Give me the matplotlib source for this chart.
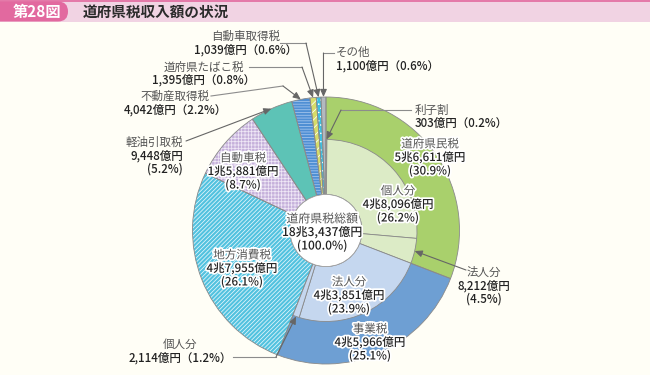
import numpy as np
import matplotlib
matplotlib.use('Agg')
import matplotlib.pyplot as plt
import matplotlib.patheffects as pe
from matplotlib.patches import Rectangle, FancyBboxPatch, Circle

plt.rcParams['font.family'] = ['Noto Sans CJK JP', 'DejaVu Sans']
plt.rcParams['hatch.linewidth'] = 0.55

# 外側：税目別（億円）
main_names = ['道府県民税', '事業税', '地方消費税', '自動車税', '軽油引取税',
              '不動産取得税', '道府県たばこ税', '自動車取得税', 'その他']
main_vals = [56611, 45966, 47955, 15881, 9448, 4042, 1395, 1039, 1100]
main_pct = [30.9, 25.1, 26.1, 8.7, 5.2, 2.2, 0.8, 0.6, 0.6]
main_colors = ['#a9d06c', '#6e9fd3', '#52c2df', '#c6b1db', '#5dc3b6',
               '#4f8fd4', '#d6dc6a', '#3fbfe0', '#b3b9c0']
main_hatch = [None, None, '////////', '+++++', None, '------', '////', '....', None]
main_hcol = [None, None, '#e8f7fb', '#efe8f6', None, '#a8c8ee', '#ffffff', '#ffffff', None]

# 内側：内訳（道府県民税・事業税）
sub_names = ['利子割', '個人分', '法人分', '法人分', '個人分']
sub_vals = [303, 48096, 8212, 43851, 2114]
sub_pct = [0.2, 26.2, 4.5, 23.9, 1.2]
sub_colors = ['#d3e3b9', '#dcebc6', '#dcebc6', '#c5d7ef', '#c5d7ef']

total = 183437
total_pct = 100.0

cx, cy = 326, 230.5
R, RM, RH = 133.5, 91, 36
FS = 8.3
LS = 13.5


def oku(v):
    if v >= 10000:
        return f'{v // 10000}兆{v % 10000:,}億円'
    return f'{v:,}億円'


def polar(frac, r):
    a = 2 * np.pi * frac
    return cx + r * np.sin(a), cy - r * np.cos(a)


fig = plt.figure(figsize=(6.5, 3.75), dpi=100, facecolor='#fffef6')
ax = fig.add_axes([0, 0, 1, 1])
ax.set_facecolor('#fffef6')

# 外側リング
w1, _ = ax.pie(main_vals, radius=R, center=(cx, cy), startangle=-90, counterclock=True,
               colors=main_colors, wedgeprops=dict(width=R - RH, linewidth=0))
for w, h, hc in zip(w1, main_hatch, main_hcol):
    if h:
        w.set_hatch(h)
        w.set_edgecolor(hc)
ax.pie(main_vals, radius=R, center=(cx, cy), startangle=-90, counterclock=True,
       wedgeprops=dict(width=R - RH, fill=False, edgecolor='#8a8a8a', linewidth=0.6))

# 内側リング
w2, _ = ax.pie(sub_vals + [total - sum(sub_vals)], radius=RM, center=(cx, cy),
               startangle=-90, counterclock=True, colors=sub_colors + ['none'],
               wedgeprops=dict(width=RM - RH, edgecolor='#8a8a8a', linewidth=0.6))
w2[-1].set_visible(False)

ax.add_patch(Circle((cx, cy), RH, fc='white', ec='#9a9a9a', lw=0.5, zorder=3))

ax.set_xlim(0, 650)
ax.set_ylim(375, 0)
ax.axis('off')

# 見出し
ax.add_patch(Rectangle((0, 0), 650, 22, fc='#f1d3e3', ec='none', zorder=4))
ax.add_patch(Rectangle((0, 0), 650, 1.5, fc='#e47aa9', ec='none', zorder=4))
ax.add_patch(FancyBboxPatch((-20, 1.5), 88, 20, boxstyle='round,pad=0,rounding_size=10',
                            fc='#e2699f', ec='none', zorder=5))
ax.text(37, 12, '第28図', color='white', fontsize=11, fontweight='bold',
        ha='center', va='center', zorder=6)
ax.text(83, 12, '道府県税収入額の状況', color='#2b2b2b', fontsize=10.5,
        fontweight='bold', ha='left', va='center', zorder=6)

white = [pe.withStroke(linewidth=2.5, foreground='white')]


def label(x, y, name, body, ha='center', inside=False, fs=FS):
    eff = white if inside else None
    ax.text(x, y, name, ha=ha, va='center', fontsize=fs, color='#555555',
            path_effects=eff, zorder=7)
    for i, line in enumerate(body):
        ax.text(x, y + (i + 1) * LS, line, ha=ha, va='center', fontsize=fs,
                color='#222222', fontweight='medium', path_effects=eff, zorder=7)


def leader(pts, target):
    xs, ys = zip(*pts)
    ax.plot(xs, ys, color='#8c8c8c', lw=0.8, zorder=6)
    ax.annotate('', xy=target, xytext=pts[-1], zorder=6,
                arrowprops=dict(arrowstyle='-|>,head_length=0.45,head_width=0.2',
                                color='#666666', lw=0.8, shrinkA=0, shrinkB=0))


mcum = np.cumsum([0] + main_vals) / total
mmid = (mcum[:-1] + mcum[1:]) / 2
scum = np.cumsum([0] + sub_vals) / total
smid = (scum[:-1] + scum[1:]) / 2

# 中央
label(cx - 4, 219, '道府県税総額', [oku(total), f'({total_pct:.1f}%)'], inside=True, fs=8.6)

# リング内ラベル
label(430, 144, main_names[0], [oku(main_vals[0]), f'({main_pct[0]}%)'], inside=True)
label(398, 191, sub_names[1], [oku(sub_vals[1]), f'({sub_pct[1]}%)'], inside=True)
label(349, 282, sub_names[3], [oku(sub_vals[3]), f'({sub_pct[3]}%)'], inside=True)
label(370, 329, main_names[1], [oku(main_vals[1]), f'({main_pct[1]}%)'], inside=True)
label(242, 255, main_names[2], [oku(main_vals[2]), f'({main_pct[2]}%)'], inside=True)
label(243, 158, main_names[3], [oku(main_vals[3]), f'({main_pct[3]}%)'], inside=True)

# 外側ラベル
label(183, 142, main_names[4], [oku(main_vals[4]), f'({main_pct[4]}%)'], ha='right')
leader([(186, 141)], polar(mmid[4], R))

label(175, 96, main_names[5], [f'{oku(main_vals[5])}（{main_pct[5]}%）'])
leader([(211, 96), (283, 86)], polar(mmid[5], R))

label(204, 67, main_names[6], [f'{oku(main_vals[6])}（{main_pct[6]}%）'])
leader([(249, 67), (302, 67)], polar(mmid[6], R))

label(246, 36, main_names[7], [f'{oku(main_vals[7])}（{main_pct[7]}%）'])
leader([(280, 43), (306, 43)], polar(mmid[7], R))

x8, _ = polar(mmid[8], R)
label(336, 52, main_names[8], [f'{oku(main_vals[8])}（{main_pct[8]}%）'], ha='left')
leader([(334, 53), (x8, 53)], polar(mmid[8], R))

label(415, 110, sub_names[0], [f'{oku(sub_vals[0])}（{sub_pct[0]}%）'], ha='left')
leader([(411, 110), (341, 110)], polar(smid[0], RM))

label(484, 272, sub_names[2], [oku(sub_vals[2]), f'({sub_pct[2]}%)'])
leader([(466, 270)], polar(smid[2], RM))

label(180, 344, sub_names[4], [f'{oku(sub_vals[4])}（{sub_pct[4]}%）'])
leader([(233, 357), (276, 357)], polar(smid[4], RM))

fig.savefig('out.png', dpi=100, facecolor=fig.get_facecolor())
